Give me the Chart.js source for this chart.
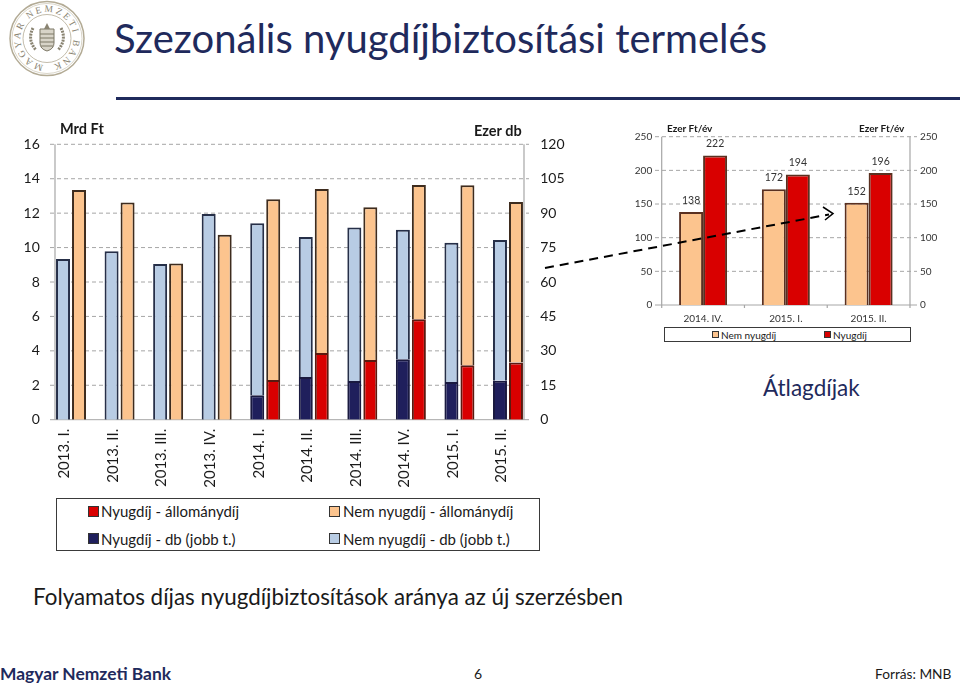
<!DOCTYPE html>
<html lang="hu">
<head>
<meta charset="utf-8">
<title>Szezonális nyugdíjbiztosítási termelés</title>
<script src="https://cdn.jsdelivr.net/npm/chart.js@4"></script>
<style>
  html, body { margin: 0; padding: 0; background: #fff; }
  body { position: relative; width: 960px; height: 684px; overflow: hidden; font-family: Lato, sans-serif; color: #1a1a1a; }
  canvas { position: absolute; }
  .t { position: absolute; white-space: nowrap; transform: translateY(-50%); line-height: 1.2; }
  .box { position: absolute; border: 1.5px solid #3a3a3a; box-sizing: border-box; background: #fff; }
  .sw { position: absolute; box-sizing: border-box; border: 1px solid #333; }
  svg { position: absolute; left: 0; top: 0; }
</style>
</head>
<body>
<svg width="96" height="80" viewBox="0 0 96 80" style="left:0;top:0">
  <defs><path id="ring" d="M47 65 a26.5 26.5 0 1 1 0.01 0"></path></defs>
  <circle cx="47" cy="38.5" r="37" fill="none" stroke="#b3ab95" stroke-width="1.5"></circle>
  <circle cx="47" cy="38.5" r="35" fill="none" stroke="#c9c3b2" stroke-width="0.7"></circle>
  <circle cx="47" cy="38.5" r="24" fill="none" stroke="#b3ab95" stroke-width="0.8"></circle>
  <text font-family="'Liberation Serif', serif" font-size="9.5" fill="#8a8472" letter-spacing="2.3"><textPath href="#ring" startOffset="2%">MAGYAR NEMZETI BANK</textPath></text>
  <path d="M40 29 h14 v14 q0 6 -7 8 q-7 -2 -7 -8 z" fill="#d8d4c8" stroke="#7d7866"></path>
  <path d="M44 29 l3 -6 l3 6 z" fill="#8a8472"></path>
  <path d="M40 34 h14 M40 38 h14 M40 42 h14 M41 46 h12" stroke="#7d7866" stroke-width="1"></path>
  <path d="M33 28 q-6 12 3 22 M61 28 q6 12 -3 22" fill="none" stroke="#8a8472" stroke-width="3" stroke-dasharray="2 1"></path>
</svg>
<div class="t" style="left:114px;top:38px;font-size:40px;color:#1f2a5c">Szezonális nyugdíjbiztosítási termelés</div>
<div style="position:absolute;left:116px;top:97px;width:844px;height:3px;background:#1f2a5c"></div>

<canvas id="main-chart" style="left:0;top:110px"></canvas>
<canvas id="avg-chart" style="left:600px;top:110px"></canvas>

<div class="t" style="left:60px;top:129px;font-size:14.5px;font-weight:700">Mrd Ft</div>
<div class="t" style="left:474px;top:131px;font-size:14.5px;font-weight:700">Ezer db</div>
<div class="t" style="left:667px;top:128px;font-size:10px;font-weight:700">Ezer Ft/év</div>
<div class="t" style="left:859px;top:128px;font-size:10px;font-weight:700">Ezer Ft/év</div>

<div class="box" style="left:56px;top:498px;width:484px;height:53px"></div>
<div class="sw" style="left:88px;top:506px;width:11px;height:11px;background:#d90000"></div>
<div class="t" style="left:101px;top:511px;font-size:15px">Nyugdíj - állománydíj</div>
<div class="sw" style="left:329px;top:506px;width:11px;height:11px;background:#fcc48e"></div>
<div class="t" style="left:343px;top:511px;font-size:15px">Nem nyugdíj - állománydíj</div>
<div class="sw" style="left:88px;top:533px;width:11px;height:11px;background:#1f1f5c"></div>
<div class="t" style="left:101px;top:539px;font-size:15px">Nyugdíj - db (jobb t.)</div>
<div class="sw" style="left:329px;top:533px;width:11px;height:11px;background:#b8cce4"></div>
<div class="t" style="left:343px;top:539px;font-size:15px">Nem nyugdíj - db (jobb t.)</div>

<div class="box" style="left:664px;top:327px;width:247px;height:15px"></div>
<div class="sw" style="left:712px;top:331px;width:7px;height:7px;background:#fcc48e"></div>
<div class="t" style="left:721px;top:334.5px;font-size:10px">Nem nyugdíj</div>
<div class="sw" style="left:824px;top:331px;width:7px;height:7px;background:#d90000"></div>
<div class="t" style="left:833px;top:334.5px;font-size:10px">Nyugdíj</div>

<div class="t" style="left:763px;top:387px;font-size:22.5px;color:#1f2a5c">Átlagdíjak</div>
<div class="t" style="left:33px;top:597px;font-size:22.4px">Folyamatos díjas nyugdíjbiztosítások aránya az új szerzésben</div>
<div class="t" style="left:0;top:674px;font-size:17.4px;font-weight:700;color:#1f2a5c">Magyar Nemzeti Bank</div>
<div class="t" style="left:474px;top:674px;font-size:14px">6</div>
<div class="t" style="left:875px;top:674px;font-size:13.7px">Forrás: MNB</div>

<svg width="960" height="684" viewBox="0 0 960 684" style="pointer-events:none">
  <path d="M545 268 L829 214.5" fill="none" stroke="#000" stroke-width="2" stroke-dasharray="9 6"></path>
  <path d="M823 207 L833 213.5 L825 220" fill="none" stroke="#000" stroke-width="1.5"></path>
</svg>

<script>
const quarters = ["2013. I.", "2013. II.", "2013. III.", "2013. IV.", "2014. I.", "2014. II.", "2014. III.", "2014. IV.", "2015. I.", "2015. II."];
// Ezer db, jobb tengely
const nyugdijDb = [null, null, null, null, 10.6, 18.6, 16.9, 26.3, 16.4, 17.0];
const nemNyugdijDb = [70.0, 73.4, 67.8, 89.6, 75.0, 61.0, 66.8, 56.5, 60.7, 61.3];
// Mrd Ft, bal tengely
const nyugdijDij = [null, null, null, null, 2.31, 3.88, 3.47, 5.83, 3.16, 3.33];
const nemNyugdijDij = [13.35, 12.62, 9.07, 10.74, 10.5, 9.53, 8.87, 7.81, 10.46, 9.32];

const avgQuarters = ["2014. IV.", "2015. I.", "2015. II."];
const avgNemNyugdij = [138, 172, 152];
const avgNyugdij = [222, 194, 196];

const AXIS_GREY = "#a6a6a6";
const ORANGE = "#fcc48e";
const RED = "#d90000";
const NAVY = "#1f1f5c";
const BLUE = "#b8cce4";

// szaggatott rács, tengelyvonalak: a diagram tengelyei beljebb vannak, mint a rajzterület
const framePlugin = {
  id: "frame",
  beforeDatasetsDraw(chart, args, opts) {
    const { ctx } = chart;
    const y = chart.scales.y;
    ctx.save();
    ctx.strokeStyle = AXIS_GREY;
    ctx.lineWidth = 1;
    y.ticks.forEach((tick) => {
      const py = y.getPixelForValue(tick.value);
      ctx.setLineDash(tick.value === 0 ? [] : [4, 3]);
      ctx.beginPath();
      ctx.moveTo(opts.x1, py);
      ctx.lineTo(opts.x2, py);
      ctx.stroke();
    });
    ctx.setLineDash([]);
    ctx.lineWidth = 1.2;
    opts.axes.forEach((ax) => {
      ctx.beginPath();
      ctx.moveTo(ax, y.top);
      ctx.lineTo(ax, y.bottom);
      ctx.stroke();
    });
    if (opts.catTicks) {
      const x = chart.scales.x;
      const step = x.width / x.ticks.length;
      for (let i = 0; i <= x.ticks.length; i++) {
        ctx.beginPath();
        ctx.moveTo(x.left + i * step, y.bottom);
        ctx.lineTo(x.left + i * step, y.bottom + 3);
        ctx.stroke();
      }
    }
    ctx.restore();
  }
};

const valueLabels = {
  id: "valueLabels",
  afterDatasetsDraw(chart) {
    const { ctx } = chart;
    ctx.save();
    ctx.font = "10.5px Lato";
    ctx.fillStyle = "#333";
    ctx.textAlign = "center";
    ctx.textBaseline = "middle";
    chart.data.datasets.forEach((ds, i) => {
      chart.getDatasetMeta(i).data.forEach((bar, j) => {
        ctx.fillText(ds.data[j], bar.x, bar.y - 11.5);
      });
    });
    ctx.restore();
  }
};

const sideWidth = (w) => (scale) => { scale.width = w; };

function sizeCanvas(id, w, h) {
  const canvas = document.getElementById(id);
  canvas.width = w;
  canvas.height = h;
  canvas.style.width = w + "px";
  canvas.style.height = h + "px";
  return canvas;
}

const barStyle = (color, border) => ({
  backgroundColor: color,
  borderColor: border,
  borderWidth: 2,
  categoryPercentage: 0.659,
  barPercentage: 0.875
});

const noGrid = { display: false, drawTicks: false };

new Chart(sizeCanvas("main-chart", 600, 380), {
  type: "bar",
  data: {
    labels: quarters,
    datasets: [
      { label: "Nyugdíj - db (jobb t.)", data: nyugdijDb, stack: "db", yAxisID: "y2", ...barStyle(NAVY, "#1a1a40") },
      { label: "Nem nyugdíj - db (jobb t.)", data: nemNyugdijDb, stack: "db", yAxisID: "y2", ...barStyle(BLUE, "#262f48") },
      { label: "Nyugdíj - állománydíj", data: nyugdijDij, stack: "dij", yAxisID: "y", ...barStyle(RED, "#5a1a10") },
      { label: "Nem nyugdíj - állománydíj", data: nemNyugdijDij, stack: "dij", yAxisID: "y", ...barStyle(ORANGE, "#3e2c1e") }
    ]
  },
  options: {
    responsive: false,
    animation: false,
    devicePixelRatio: 1,
    layout: { padding: { top: 34.3, left: 0, right: 0, bottom: 0 } },
    plugins: {
      legend: { display: false },
      tooltip: { enabled: false },
      frame: { x1: 50, x2: 529, axes: [55, 524] }
    },
    scales: {
      x: {
        stacked: true,
        grid: noGrid,
        border: { display: false },
        afterFit: (scale) => { scale.height = 70.3; },
        ticks: {
          font: { family: "Lato", size: 15 },
          color: "#1a1a1a",
          minRotation: 90,
          maxRotation: 90,
          autoSkip: false,
          labelOffset: -6.5,
          padding: 9
        }
      },
      y: {
        position: "left",
        stacked: true,
        min: 0,
        max: 16,
        grid: noGrid,
        border: { display: false },
        afterFit: sideWidth(46.75),
        ticks: { stepSize: 2, font: { family: "Lato", size: 14 }, color: "#1a1a1a", padding: 7 }
      },
      y2: {
        position: "right",
        stacked: true,
        min: 0,
        max: 120,
        grid: noGrid,
        border: { display: false },
        afterFit: sideWidth(67.75),
        ticks: { stepSize: 15, font: { family: "Lato", size: 14 }, color: "#1a1a1a", padding: 8 }
      }
    }
  },
  plugins: [framePlugin]
});

new Chart(sizeCanvas("avg-chart", 360, 217), {
  type: "bar",
  data: {
    labels: avgQuarters,
    datasets: [
      { label: "Nem nyugdíj", data: avgNemNyugdij, backgroundColor: ORANGE, borderColor: "#5a3020", borderWidth: 2, categoryPercentage: 0.58, barPercentage: 1 },
      { label: "Nyugdíj", data: avgNyugdij, backgroundColor: RED, borderColor: "#5a3020", borderWidth: 2, categoryPercentage: 0.58, barPercentage: 1 }
    ]
  },
  options: {
    responsive: false,
    animation: false,
    devicePixelRatio: 1,
    layout: { padding: { top: 26.7, left: 0, right: 0, bottom: 0 } },
    plugins: {
      legend: { display: false },
      tooltip: { enabled: false },
      frame: { x1: 55, x2: 317, axes: [61.7, 310], catTicks: true }
    },
    scales: {
      x: {
        grid: noGrid,
        border: { display: false },
        afterFit: (scale) => { scale.height = 22; },
        ticks: { font: { family: "Lato", size: 10 }, color: "#333", maxRotation: 0, padding: 8 }
      },
      y: {
        position: "left",
        min: 0,
        max: 250,
        grid: noGrid,
        border: { display: false },
        afterFit: sideWidth(61.7),
        ticks: { stepSize: 50, font: { family: "Lato", size: 10 }, color: "#333", padding: 9.5 }
      },
      y2: {
        position: "right",
        min: 0,
        max: 250,
        grid: noGrid,
        border: { display: false },
        afterFit: sideWidth(50),
        ticks: { stepSize: 50, font: { family: "Lato", size: 10 }, color: "#333", padding: 10 }
      }
    }
  },
  plugins: [framePlugin, valueLabels]
});
</script>
</body>
</html>
